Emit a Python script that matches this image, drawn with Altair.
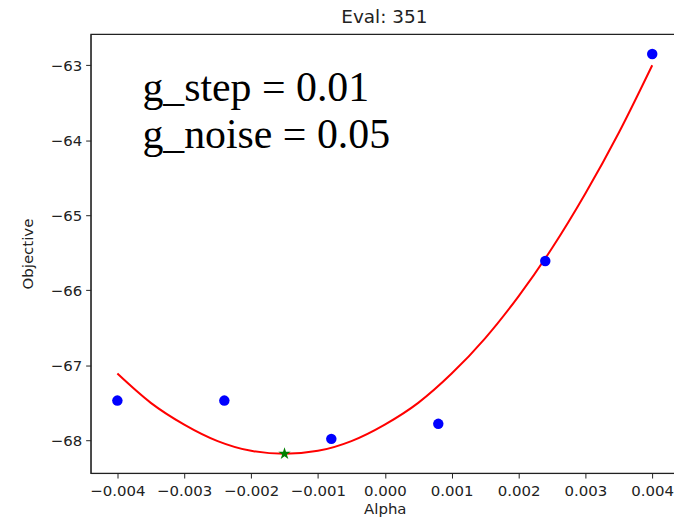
import altair as alt
import pandas as pd

# Sampled evaluations (blue dots)
alpha_pts = [-0.004, -0.0024, -0.0008, 0.0008, 0.0024, 0.004]
obj_pts = [-67.47, -67.47, -67.98, -67.78, -65.61, -62.85]

# Fitted curve (red line)
alpha_curve = [-0.004, -0.0035, -0.003, -0.0025, -0.002, -0.0015, -0.001, -0.0005,
               0.0, 0.0005, 0.001, 0.0015, 0.002, 0.0025, 0.003, 0.0035, 0.004]
obj_curve = [-67.11, -67.50, -67.79, -68.01, -68.14, -68.18, -68.14, -68.01,
             -67.79, -67.50, -67.11, -66.64, -66.08, -65.44, -64.71, -63.90, -63.00]

# Minimum (green star)
alpha_min = [-0.0015]
obj_min = [-68.18]

x_ticks = [-0.004, -0.003, -0.002, -0.001, 0.0, 0.001, 0.002, 0.003, 0.004]
y_ticks = [-68, -67, -66, -65, -64, -63]

title_text = "Eval: 351"
notes = ["g_step = 0.01", "g_noise = 0.05"]

pts = pd.DataFrame({"Alpha": alpha_pts, "Objective": obj_pts})
curve = pd.DataFrame({"Alpha": alpha_curve, "Objective": obj_curve})
mn = pd.DataFrame({"Alpha": alpha_min, "Objective": obj_min})

FONT = "DejaVu Sans"
W, H = 591, 441
STAR = ("M0,-1L0.2245,-0.309L0.951,-0.309L0.363,0.118L0.588,0.809L0,0.382"
        "L-0.588,0.809L-0.363,0.118L-0.951,-0.309L-0.2245,-0.309Z")

xs = alt.Scale(domain=[-0.0044, 0.0044], nice=False, zero=False)
ys = alt.Scale(domain=[-68.436, -62.584], nice=False, zero=False)

xenc = alt.X("Alpha:Q", scale=xs, title="Alpha",
             axis=alt.Axis(values=x_ticks, format=".3f", grid=False,
                           labelFontSize=15, titleFontSize=15, labelFont=FONT,
                           titleFont=FONT, titleFontWeight="normal",
                           tickSize=5, labelPadding=6, titlePadding=3,
                           domainColor="#222", tickColor="#222",
                           labelColor="#222", titleColor="#222"))
yenc = alt.Y("Objective:Q", scale=ys, title="Objective",
             axis=alt.Axis(values=y_ticks, format="d", grid=False,
                           labelFontSize=15, titleFontSize=15, labelFont=FONT,
                           titleFont=FONT, titleFontWeight="normal",
                           tickSize=5, labelPadding=4, titlePadding=15,
                           domainColor="#222", tickColor="#222",
                           labelColor="#222", titleColor="#222"))

line = alt.Chart(curve).mark_line(color="#ff0000", strokeWidth=2, interpolate="monotone").encode(
    x=xenc, y=yenc)
dots = alt.Chart(pts).mark_point(filled=True, color="#0000ff", size=110, opacity=1).encode(
    x="Alpha:Q", y="Objective:Q")
star = alt.Chart(mn).mark_point(filled=True, shape=STAR, color="#008000", size=170, opacity=1).encode(
    x="Alpha:Q", y="Objective:Q")

title_mark = alt.Chart(pd.DataFrame({"t": [title_text]})).mark_text(
    font=FONT, fontSize=18.5, align="center", baseline="alphabetic", color="#222"
).encode(text="t:N", x=alt.value(295), y=alt.value(-11))
txt1 = alt.Chart(pd.DataFrame({"t": [notes[0]]})).mark_text(
    font="Liberation Serif", fontSize=42, align="left", baseline="alphabetic", color="black"
).encode(text="t:N", x=alt.value(52), y=alt.value(67))
txt2 = alt.Chart(pd.DataFrame({"t": [notes[1]]})).mark_text(
    font="Liberation Serif", fontSize=42, align="left", baseline="alphabetic", color="black"
).encode(text="t:N", x=alt.value(52), y=alt.value(114))

chart = alt.layer(line, dots, star, title_mark, txt1, txt2).properties(
    width=W, height=H,
    autosize=alt.AutoSizeParams(type="none"),
    padding={"left": 83, "top": 25, "right": -5, "bottom": 46},
    background="white",
).configure_view(stroke="#222", strokeWidth=1.2)

chart.save("out.html", embed_options={"renderer": "svg", "actions": False})
